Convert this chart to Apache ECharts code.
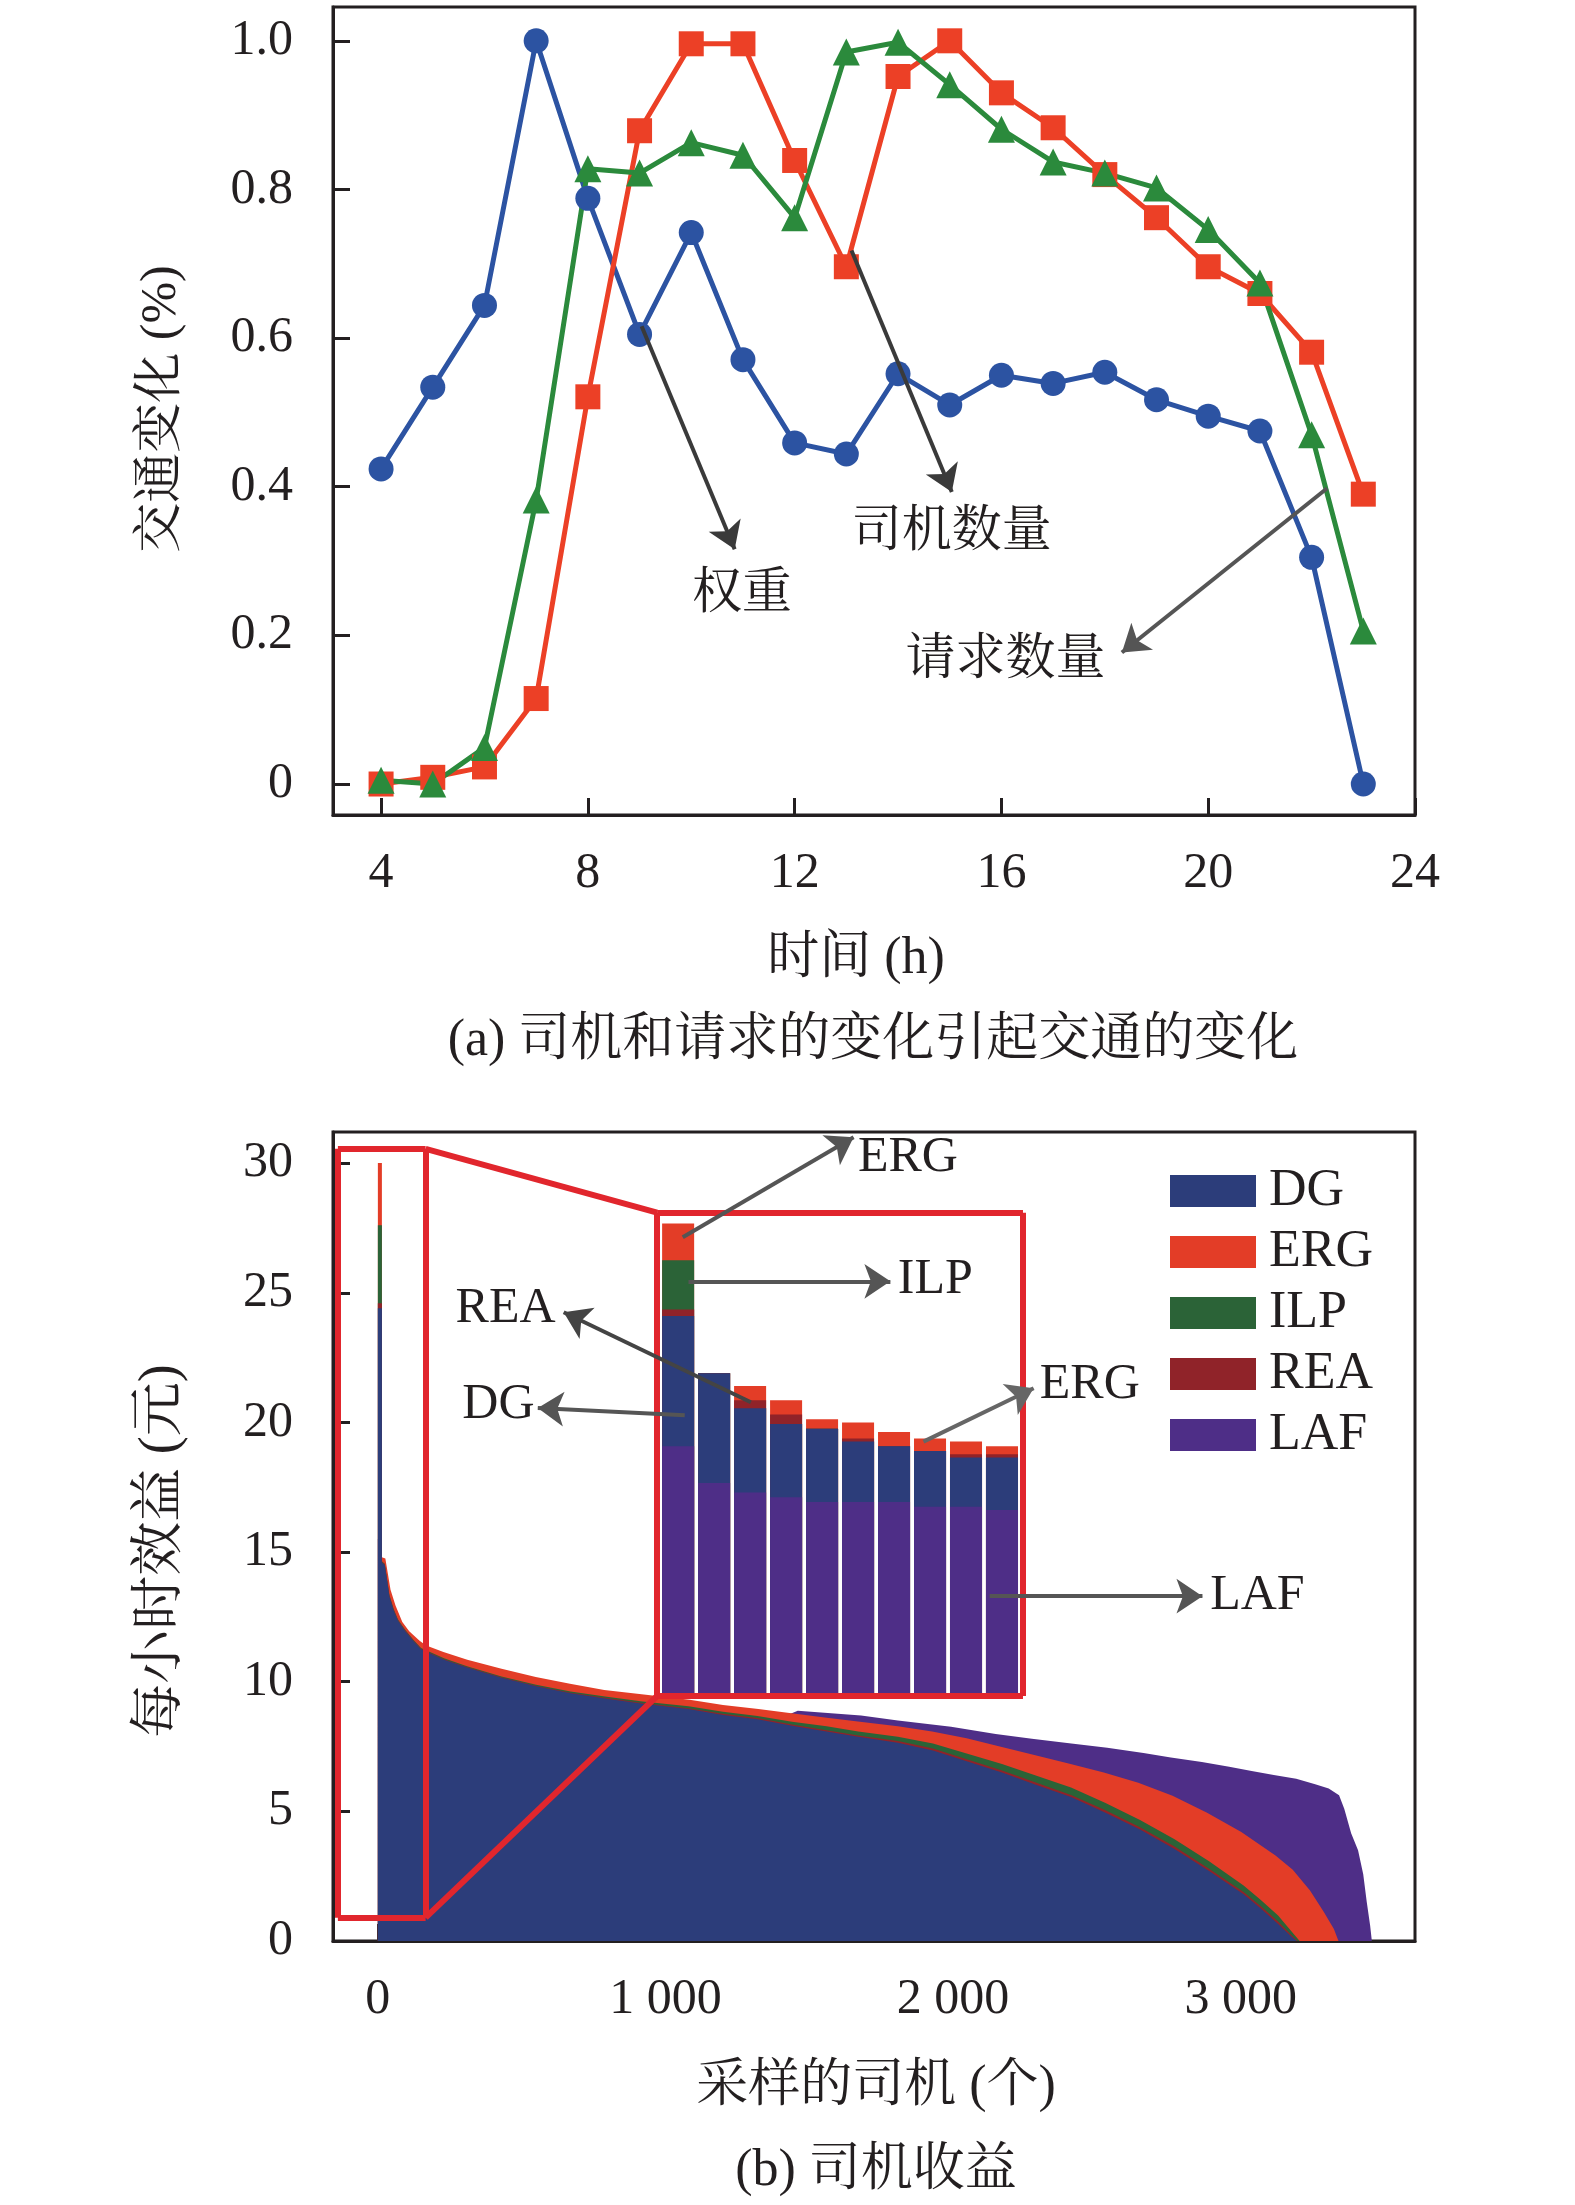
<!DOCTYPE html>
<html>
<head>
<meta charset="utf-8">
<script src="https://cdn.jsdelivr.net/npm/echarts@6/dist/echarts.min.js"></script>
<style>
html,body{margin:0;padding:0;background:#fff;}
#main{width:1575px;height:2205px;}
</style>
</head>
<body>
<div id="main"></div>
<script>
// (a) 交通变化
var hours = [4,5,6,7,8,9,10,11,12,13,14,15,16,17,18,19,20,21,22,23];
var weightVals  = [0.424,0.534,0.644,1.0,0.788,0.605,0.742,0.571,0.459,0.444,0.552,0.510,0.550,0.539,0.554,0.517,0.495,0.475,0.305,0.0];
var driverVals  = [0.0,0.009,0.023,0.115,0.521,0.879,0.996,0.996,0.839,0.696,0.952,1.0,0.93,0.883,0.82,0.762,0.696,0.66,0.581,0.39];
var requestVals = [0.005,0.0,0.049,0.382,0.828,0.822,0.863,0.846,0.762,0.985,0.998,0.941,0.881,0.837,0.822,0.802,0.746,0.674,0.47,0.206];
var hourTicks = [4,8,12,16,20,24];
var rateTicks = [0,0.2,0.4,0.6,0.8,1.0];

// (b) 司机收益  [采样司机序号, 每小时效益]
var dgPts = [[0,24.4],[14,24.4],[14,14.6],[24,14.5],[40,13.3],[55,12.75],[70,12.35],[95,11.95],[125,11.55],[150,11.25],[230,10.85],[310,10.55],[430,10.15],[550,9.82],[670,9.55],[790,9.35],[920,9.15],[1080,8.95],[1200,8.72],[1320,8.55],[1440,8.3],[1560,8.08],[1670,7.88],[1808,7.65],[1930,7.35],[2050,6.92],[2170,6.5],[2290,6.02],[2410,5.55],[2530,4.95],[2650,4.3],[2770,3.55],[2890,2.7],[3010,1.8],[3070,1.25],[3130,0.66],[3175,0.18],[3195,0]];
var reaPts = [[0,24.6],[14,24.6],[14,14.62],[24,14.52],[40,13.32],[55,12.77],[70,12.37],[95,11.97],[125,11.57],[150,11.27],[230,10.87],[310,10.57],[430,10.17],[550,9.84],[670,9.57],[790,9.38],[920,9.18],[1080,8.98],[1200,8.76],[1320,8.6],[1440,8.35],[1560,8.13],[1670,7.93],[1808,7.71],[1930,7.42],[2050,7.0],[2170,6.58],[2290,6.1],[2410,5.63],[2530,5.04],[2650,4.39],[2770,3.64],[2890,2.79],[3010,1.89],[3070,1.34],[3130,0.75],[3170,0.3],[3198,0]];
var ilpPts = [[0,27.6],[14,27.6],[14,14.65],[24,14.55],[40,13.35],[55,12.8],[70,12.4],[95,12.0],[125,11.6],[150,11.3],[230,10.9],[310,10.6],[430,10.2],[550,9.88],[670,9.62],[790,9.43],[920,9.24],[1080,9.05],[1200,8.84],[1320,8.68],[1440,8.46],[1560,8.28],[1670,8.08],[1808,7.88],[1930,7.62],[2050,7.22],[2170,6.83],[2290,6.37],[2410,5.92],[2530,5.32],[2650,4.67],[2770,3.92],[2890,3.08],[3010,2.14],[3070,1.58],[3130,0.98],[3168,0.48],[3205,0]];
var ergPts = [[0,30],[14,30],[14,14.8],[26,14.75],[44,13.55],[61,12.95],[85,12.3],[109,11.95],[145,11.58],[168,11.4],[228,11.15],[311,10.85],[430,10.5],[549,10.18],[668,9.92],[787,9.68],[917,9.52],[1084,9.3],[1200,9.1],[1323,8.95],[1438,8.78],[1554,8.62],[1669,8.47],[1808,8.28],[1927,8.08],[2047,7.82],[2166,7.49],[2286,7.16],[2405,6.84],[2524,6.5],[2644,6.1],[2763,5.6],[2883,4.95],[3002,4.2],[3121,3.3],[3181,2.75],[3241,1.95],[3289,1.12],[3324,0.46],[3340,0]];
var lafPts = [[0,15.5],[14,15.5],[14,13.2],[40,12.4],[100,11.4],[200,10.8],[400,10.1],[700,9.5],[1000,9.05],[1300,8.75],[1420,8.7],[1460,8.88],[1680,8.7],[1808,8.5],[1993,8.26],[2148,7.98],[2274,7.8],[2411,7.62],[2536,7.45],[2662,7.25],[2757,7.08],[2865,6.9],[2960,6.72],[3038,6.56],[3115,6.4],[3193,6.26],[3259,6.05],[3306,5.88],[3342,5.62],[3360,5.1],[3384,4.16],[3408,3.5],[3426,2.57],[3438,1.52],[3450,0.6],[3456,0]];
var sampleTicks = [0,1000,2000,3000];
var incomeTicks = [0,5,10,15,20,25,30];

// 放大图 (前 10 名司机)
var insetCats = ['1','2','3','4','5','6','7','8','9','10'];
var insetERG = [29.5,20.1,19.3,18.4,17.2,17.0,16.4,16.0,15.8,15.5];
var insetILP = [27.2,20.1,17.9,16.9,16.6,15.8,15.5,15.2,14.8,14.8];
var insetREA = [24.1,20.1,18.4,17.5,16.6,16.0,15.5,15.2,15.0,15.0];
var insetDG  = [23.7,20.1,17.9,16.9,16.6,15.8,15.5,15.2,14.8,14.8];
var insetLAF = [15.5,13.2,12.6,12.3,12.0,12.0,12.0,11.7,11.7,11.5];

// 标注框
var zoomBox  = [-139, 166, 0.9, 30.55];
var insetBox = [971, 2243, 9.45, 28.09];

var FONT = "'Liberation Serif','Noto Serif CJK SC','Noto Sans CJK SC',serif";
var INK = '#231f20';
var RED_FRAME = '#e1262d';
var C = {DG:'#2c3d7a', ERG:'#e33d27', ILP:'#2b6337', REA:'#902329', LAF:'#4e2e87'};

function pairs(xs, ys){ return xs.map(function(x,i){ return [x, ys[i]]; }); }
function thousand(v){ return v === 0 ? '0' : String(v).replace(/\B(?=(\d{3})+$)/g, ' '); }

function arrow(a, b, color){
    return [{coord:a, symbol:'none', lineStyle:{color:color, width:4, type:'solid'}}, {coord:b, symbol:'arrow', symbolSize:26}];
}
function seg(a, b){
    return [{coord:a, symbol:'none', lineStyle:{color:RED_FRAME, width:6, type:'solid'}}, {coord:b, symbol:'none'}];
}
function note(name, coord){
    return {name:name, coord:coord};
}
function caption(text, x, y, size, rotate){
    return {type:'text', x:x, y:y, rotation:rotate || 0,
        style:{text:text, fill:INK, font:size + 'px ' + FONT, align:'center', verticalAlign:'middle'}};
}

function axisBase(){
    return {
        axisLine:{show:true, onZero:false, lineStyle:{color:INK, width:3}},
        axisTick:{show:true, inside:true, length:17, lineStyle:{color:INK, width:3}},
        splitLine:{show:false},
        axisLabel:{color:INK, fontSize:50, fontFamily:FONT}
    };
}

function areaSeries(name, pts){
    return {
        name:name, type:'line', xAxisIndex:1, yAxisIndex:1, data:pts,
        showSymbol:false, symbol:'none', lineStyle:{width:0, color:C[name]},
        itemStyle:{color:C[name]}, areaStyle:{color:C[name], opacity:1}
    };
}
function insetSeries(name, vals){
    return {
        name:name, type:'bar', xAxisIndex:2, yAxisIndex:2, data:vals,
        barGap:'-100%', barCategoryGap:'11%', itemStyle:{color:C[name]}
    };
}

var x0 = echarts.util.merge(axisBase(), {type:'value', gridIndex:0, min:3.07, max:24}, true);
x0.axisTick.customValues = hourTicks;
x0.axisLabel.customValues = hourTicks;
x0.axisLabel.margin = 34;

var y0 = echarts.util.merge(axisBase(), {type:'value', gridIndex:0, min:-0.0417, max:1.0455}, true);
y0.axisTick.customValues = rateTicks;
y0.axisLabel.customValues = rateTicks;
y0.axisLabel.margin = 40;
y0.axisLabel.formatter = function(v){ return v === 0 ? '0' : v.toFixed(1); };

var x1 = echarts.util.merge(axisBase(), {type:'value', gridIndex:1, min:-156, max:3606}, true);
x1.axisTick.customValues = sampleTicks;
x1.axisLabel.customValues = sampleTicks;
x1.axisLabel.margin = 34;
x1.axisLabel.formatter = thousand;

var y1 = echarts.util.merge(axisBase(), {type:'value', gridIndex:1, min:0, max:31.2}, true);
y1.axisTick.customValues = incomeTicks;
y1.axisLabel.customValues = incomeTicks;
y1.axisLabel.margin = 40;

var topLineColor = {w:'#2c53a2', d:'#ec4026', r:'#2b8a3c'};
var annoLabel = {show:true, position:'inside', formatter:'{b}', color:INK, fontSize:50, fontFamily:FONT};

var option = {
    animation:false,
    backgroundColor:'#fff',
    textStyle:{fontFamily:FONT},
    grid:[
        {left:333, top:7, width:1082, height:808, show:true, borderColor:INK, borderWidth:3},
        {left:333, top:1132, width:1082, height:809, show:true, borderColor:INK, borderWidth:3},
        {left:666, top:1212, width:356, height:478}
    ],
    xAxis:[x0, x1, {type:'category', gridIndex:2, data:insetCats, show:false}],
    yAxis:[y0, y1, {type:'value', gridIndex:2, min:0, max:30, show:false}],
    legend:{
        data:['DG','ERG','ILP','REA','LAF'],
        orient:'vertical', left:1165, top:1160,
        icon:'rect', itemWidth:86, itemHeight:32, itemGap:9,
        textStyle:{color:INK, fontSize:52, lineHeight:52, fontFamily:FONT, padding:[0,0,0,8]},
        selectedMode:false
    },
    graphic:[
        caption('时间 (h)', 856, 959, 52),
        caption('(a) 司机和请求的变化引起交通的变化', 873, 1041, 52),
        caption('交通变化 (%)', 162, 409, 50, Math.PI / 2),
        caption('采样的司机 (个)', 876, 2087, 52),
        caption('(b) 司机收益', 876, 2171, 52),
        caption('每小时效益 (元)', 162, 1551, 54, Math.PI / 2)
    ],
    series:[
        {
            name:'权重', type:'line', xAxisIndex:0, yAxisIndex:0, data:pairs(hours, weightVals),
            symbol:'circle', symbolSize:25, lineStyle:{width:5, color:topLineColor.w}, itemStyle:{color:topLineColor.w},
            markLine:{silent:true, label:{show:false},
                data:[
                    arrow([9.04,0.616],[10.84,0.316],'#3a3a3a'),
                    arrow([13.1,0.718],[15.04,0.393],'#3a3a3a'),
                    arrow([22.3,0.398],[18.33,0.177],'#555')
                ]},
            markPoint:{silent:true, symbol:'rect', symbolSize:0, label:annoLabel,
                data:[note('权重',[10.98,0.254]), note('司机数量',[15.04,0.338]), note('请求数量',[16.08,0.166])]}
        },
        {
            name:'司机数量', type:'line', xAxisIndex:0, yAxisIndex:0, data:pairs(hours, driverVals),
            symbol:'rect', symbolSize:25, lineStyle:{width:5, color:topLineColor.d}, itemStyle:{color:topLineColor.d}
        },
        {
            name:'请求数量', type:'line', xAxisIndex:0, yAxisIndex:0, data:pairs(hours, requestVals),
            symbol:'triangle', symbolSize:27, lineStyle:{width:5, color:topLineColor.r}, itemStyle:{color:topLineColor.r}
        },
        areaSeries('LAF', lafPts),
        areaSeries('ERG', ergPts),
        areaSeries('ILP', ilpPts),
        areaSeries('REA', reaPts),
        echarts.util.merge(areaSeries('DG', dgPts), {
            markLine:{silent:true, label:{show:false}, symbol:['none','none'],
                data:[
                    seg([zoomBox[0],zoomBox[2]],[zoomBox[1],zoomBox[2]]),
                    seg([zoomBox[0],zoomBox[3]],[zoomBox[1],zoomBox[3]]),
                    seg([zoomBox[0],zoomBox[2]],[zoomBox[0],zoomBox[3]]),
                    seg([zoomBox[1],zoomBox[2]],[zoomBox[1],zoomBox[3]]),
                    seg([zoomBox[1],zoomBox[3]],[insetBox[0],insetBox[3]]),
                    seg([zoomBox[1],zoomBox[2]],[insetBox[0],insetBox[2]]),
                    seg([insetBox[0],insetBox[2]],[insetBox[1],insetBox[2]]),
                    seg([insetBox[0],insetBox[3]],[insetBox[1],insetBox[3]]),
                    seg([insetBox[0],insetBox[2]],[insetBox[0],insetBox[3]]),
                    seg([insetBox[1],insetBox[2]],[insetBox[1],insetBox[3]]),
                    arrow([1060,27.14],[1654,31.0],'#555'),
                    arrow([1080,25.44],[1782,25.44],'#555'),
                    arrow([1297,20.78],[646,24.25],'#444'),
                    arrow([1067,20.28],[556,20.56],'#555'),
                    arrow([1897,19.26],[2280,21.32],'#666'),
                    arrow([2127,13.3],[2867,13.3],'#555')
                ]},
            markPoint:{silent:true, symbol:'rect', symbolSize:0, label:annoLabel,
                data:[note('ERG',[1843,30.2]), note('ILP',[1938,25.49]), note('REA',[444,24.36]),
                      note('DG',[419,20.67]), note('ERG ',[2497,21.43]), note('LAF',[3058,13.3])]}
        }, true),
        insetSeries('ERG', insetERG),
        insetSeries('ILP', insetILP),
        insetSeries('REA', insetREA),
        insetSeries('DG', insetDG),
        insetSeries('LAF', insetLAF)
    ]
};

var chart = echarts.init(document.getElementById('main'));
chart.setOption(option);

// 放大图区域按主图坐标定位
var pA = chart.convertToPixel({xAxisIndex:1, yAxisIndex:1}, [insetBox[0], insetBox[3]]);
var pB = chart.convertToPixel({xAxisIndex:1, yAxisIndex:1}, [insetBox[1], insetBox[2]]);
chart.setOption({grid:[{}, {}, {left:pA[0]+3, top:pA[1]+3, width:pB[0]-pA[0]-6, height:pB[1]-pA[1]-6}]});
</script>
</body>
</html>
